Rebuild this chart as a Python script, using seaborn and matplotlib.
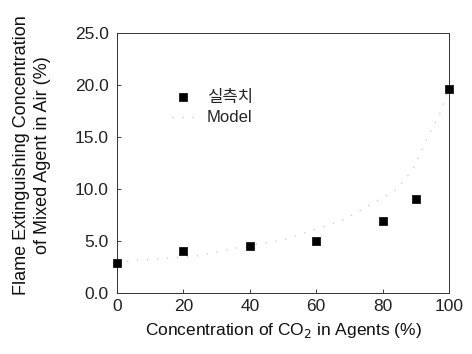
import matplotlib
matplotlib.use("Agg")
import matplotlib.pyplot as plt
import seaborn as sns
import pandas as pd

# Measured data
co2_pct = [0, 20, 40, 60, 80, 90, 100]
measured = [2.9, 4.0, 4.5, 5.0, 6.9, 9.0, 19.6]

# Model curve
model_x = [0, 25, 40, 50, 68, 84, 89, 95, 97, 100]
model_y = [3.0, 3.6, 4.6, 5.1, 7.0, 9.9, 11.8, 15.9, 17.0, 19.6]

xticks = [0, 20, 40, 60, 80, 100]
yticks = [0.0, 5.0, 10.0, 15.0, 20.0, 25.0]

sns.set_theme(style="ticks")
plt.rcParams['font.family'] = ['Liberation Sans', 'Noto Sans CJK KR', 'DejaVu Sans']
plt.rcParams['xtick.direction'] = 'in'
plt.rcParams['ytick.direction'] = 'in'

fig = plt.figure(figsize=(4.72, 3.54), dpi=100)
ax = fig.add_axes([0.248, 0.172, 0.703, 0.735])

df_meas = pd.DataFrame({"x": co2_pct, "y": measured})
df_model = pd.DataFrame({"x": model_x, "y": model_y})

sns.lineplot(data=df_model, x="x", y="y", ax=ax, color="#c4c4c4", lw=0.9,
             linestyle=(0, (1, 7)), label="Model", zorder=2)
sns.scatterplot(data=df_meas, x="x", y="y", ax=ax, marker="s", s=38,
                color="black", edgecolor="black", linewidth=0.5, label="실측치", zorder=3,
                clip_on=False)

ax.set_xlim(0, 100)
ax.set_ylim(0, 25)
ax.set_xticks(xticks)
ax.set_yticks(yticks)
ax.set_yticklabels([f"{v:.1f}" for v in yticks])
ax.tick_params(axis='both', labelsize=12.5, length=3, width=0.6, colors='#222222')
ax.tick_params(axis='y', pad=6)
ax.tick_params(axis='x', pad=4)

for sp in ax.spines.values():
    sp.set_linewidth(0.7)
    sp.set_color('#333333')

ax.set_xlabel("Concentration of CO$_2$ in Agents (%)", fontsize=12.5, color='#111111', labelpad=5)
ax.set_ylabel("Flame Extinguishing Concentration\nof Mixed Agent in Air (%)", fontsize=13,
              color='#111111', linespacing=1.3)
ax.yaxis.set_label_coords(-0.2, 0.53)

handles, labels = ax.get_legend_handles_labels()
order = [labels.index("실측치"), labels.index("Model")]
ax.legend([handles[i] for i in order], [labels[i] for i in order],
          loc="upper left", bbox_to_anchor=(0.12, 0.84), frameon=False,
          fontsize=12, handlelength=1.3, handletextpad=0.8, labelspacing=0.35)

fig.savefig("out.png", dpi=100)
